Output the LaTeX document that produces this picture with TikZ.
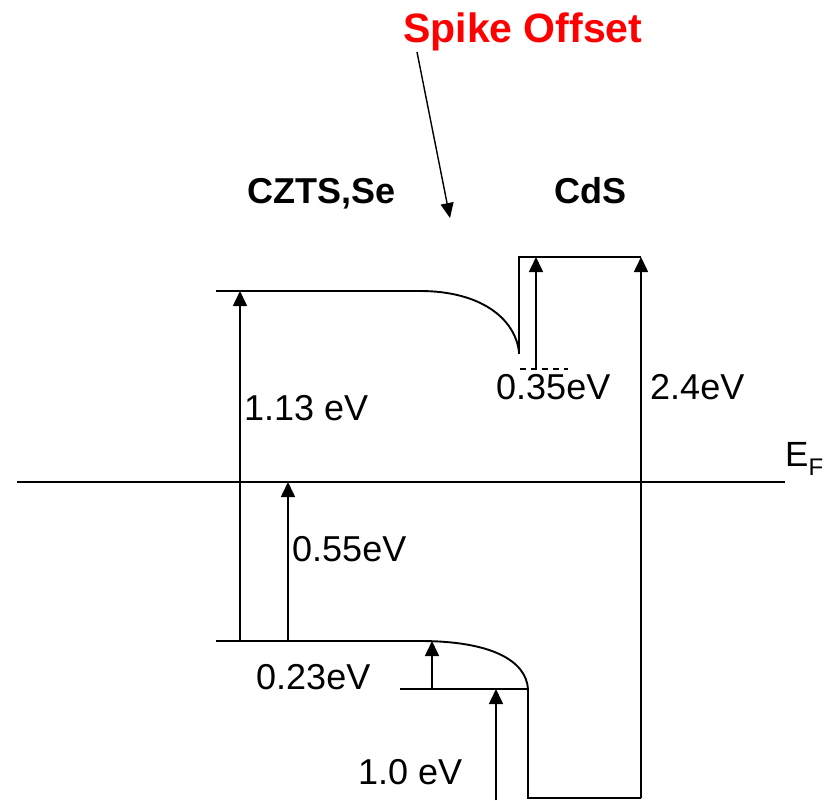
\documentclass[tikz,border=0pt]{standalone}
\usepackage{fontspec}
\setmainfont{Liberation Sans}
\usetikzlibrary{arrows.meta}
\begin{document}
\begin{tikzpicture}[x=1pt,y=-1pt,
  band/.style={line width=1.9pt},
  uparrow/.style={line width=1.6pt,-{Triangle[width=14pt,length=15pt]}},
  lbl/.style={anchor=base west,inner sep=0pt,font=\fontsize{36}{40}\selectfont},
  title/.style={anchor=base west,inner sep=0pt,font=\fontsize{36}{40}\selectfont\bfseries}]
\useasboundingbox (0,0) rectangle (829,800);
% coordinates
\coordinate (cbL) at (216,291);
\coordinate (cbK) at (420,291);
\coordinate (cbE) at (519,352);
\coordinate (cdsB) at (519,354);
\coordinate (cdsT) at (519,257);
\coordinate (cdsR) at (641,257);
\coordinate (efL) at (17,482);
\coordinate (efR) at (785,482);
\coordinate (vbL) at (216,641);
\coordinate (vbK) at (420,641);
\coordinate (vbE) at (528,689);
\coordinate (vbB) at (528,798);
\coordinate (vbR) at (641,798);
\coordinate (lowL) at (400,689);
\coordinate (dashL) at (520,369);
\coordinate (dashR) at (568,369);
% bands
\draw[band] (cbL) -- (cbK) .. controls (480,291) and (515,318) .. (cbE);
\draw[band] (cdsB) -- (cdsT) -- (cdsR);
\draw[band] (efL) -- (efR);
\draw[band] (vbL) -- (vbK) .. controls (490,641) and (526,660) .. (vbE) -- (vbB) -- (vbR);
\draw[band] (lowL) -- (vbE);
\draw[line width=1.4pt,dash pattern=on 6pt off 5pt] (dashL) -- (dashR);
% arrows
\coordinate (a1s) at (240,641); \coordinate (a1e) at (240,291);
\coordinate (a2s) at (288,641); \coordinate (a2e) at (288,482);
\coordinate (a3s) at (432,689); \coordinate (a3e) at (432,641);
\coordinate (a4s) at (496,800); \coordinate (a4e) at (496,689);
\coordinate (a5s) at (536,369); \coordinate (a5e) at (536,257);
\coordinate (a6s) at (641,798); \coordinate (a6e) at (641,257);
\draw[uparrow] (a1s) -- (a1e);
\draw[uparrow] (a2s) -- (a2e);
\draw[uparrow] (a3s) -- (a3e);
\draw[uparrow] (a4s) -- (a4e);
\draw[uparrow] (a5s) -- (a5e);
\draw[uparrow] (a6s) -- (a6e);
% labels
\node[lbl] (l113) at (244,420) {1.13 eV};
\node[lbl] (l055) at (292,561) {0.55eV};
\node[lbl] (l023) at (256,689) {0.23eV};
\node[lbl] (l10) at (358,784) {1.0 eV};
\node[lbl] (l035) at (496,399) {0.35eV};
\node[lbl] (l24) at (650,399) {2.4eV};
\node[anchor=base west,inner sep=0pt,font=\fontsize{35}{40}\selectfont] (ef) at (785,466) {E\raisebox{-9pt}{\fontsize{24}{28}\selectfont F}};
\node[title] (czts) at (247,203) {CZTS,Se};
\node[title] (cds) at (554,203) {CdS};
\node[title,text=red,font=\fontsize{41}{46}\selectfont\bfseries] (spike) at (403,43) {Spike Offset};
\coordinate (spikeTip) at (450,218);
\draw[line width=1.4pt,-{Triangle[width=13pt,length=15pt]}] (417,52) -- (spikeTip);
\end{tikzpicture}
\end{document}
